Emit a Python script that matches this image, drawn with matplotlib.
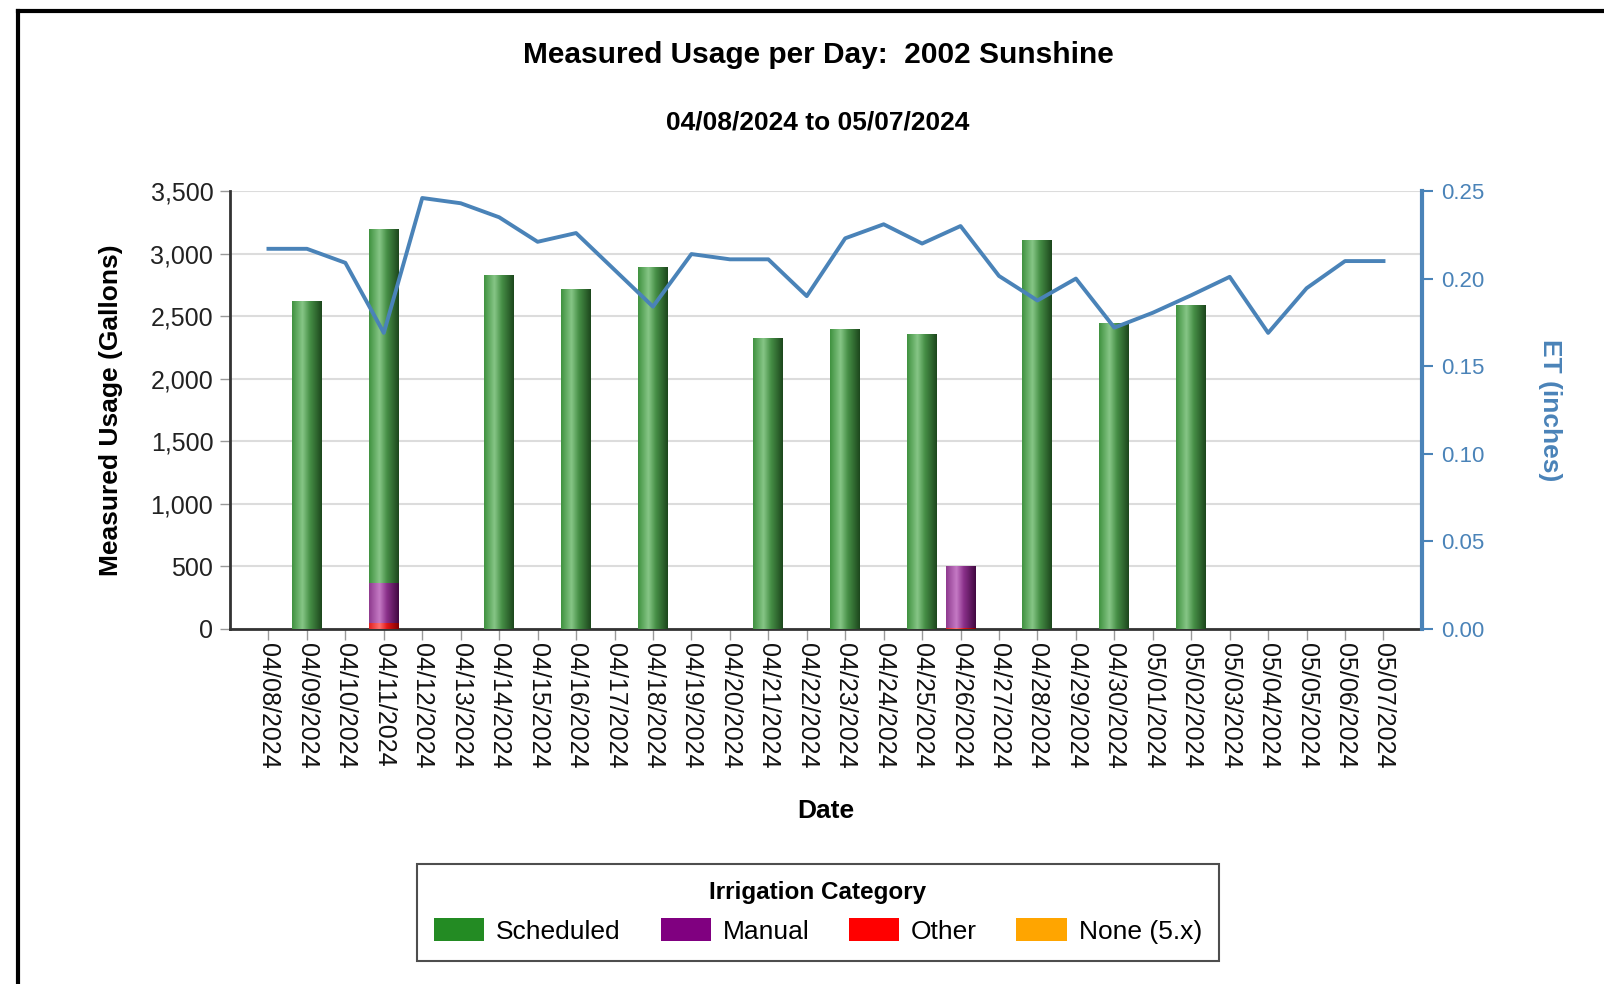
import numpy as np
import matplotlib
matplotlib.use('Agg')
import matplotlib.pyplot as plt
from matplotlib.colors import LinearSegmentedColormap
from matplotlib.patches import Patch
from matplotlib.lines import Line2D

plt.rcParams['font.family'] = ['Liberation Sans', 'DejaVu Sans']

# data
dates = ['04/08/2024', '04/09/2024', '04/10/2024', '04/11/2024', '04/12/2024',
         '04/13/2024', '04/14/2024', '04/15/2024', '04/16/2024', '04/17/2024',
         '04/18/2024', '04/19/2024', '04/20/2024', '04/21/2024', '04/22/2024',
         '04/23/2024', '04/24/2024', '04/25/2024', '04/26/2024', '04/27/2024',
         '04/28/2024', '04/29/2024', '04/30/2024', '05/01/2024', '05/02/2024',
         '05/03/2024', '05/04/2024', '05/05/2024', '05/06/2024', '05/07/2024']
scheduled = [0, 2620, 0, 2830, 0, 0, 2830, 0, 2715, 0,
             2895, 0, 0, 2325, 0, 2395, 0, 2355, 0, 0,
             3110, 0, 2445, 0, 2590, 0, 0, 0, 0, 0]
manual = [0, 0, 0, 320, 0, 0, 0, 0, 0, 0,
          0, 0, 0, 0, 0, 0, 0, 0, 490, 0,
          0, 0, 0, 0, 0, 0, 0, 0, 0, 0]
other = [0, 0, 0, 50, 0, 0, 0, 0, 0, 0,
         0, 0, 0, 0, 0, 0, 0, 0, 10, 0,
         0, 0, 0, 0, 0, 0, 0, 0, 0, 0]
none_5x = [0] * 30
et = [0.217, 0.217, 0.209, 0.169, 0.246, 0.243, 0.235, 0.221, 0.226, 0.205,
      0.184, 0.214, 0.211, 0.211, 0.190, 0.223, 0.231, 0.220, 0.230, 0.2015,
      0.1875, 0.200, 0.172, 0.1805, 0.1905, 0.201, 0.169, 0.1945, 0.210, 0.210]

legend_labels = ['Scheduled', 'Manual', 'Other', 'None (5.x)']
legend_colors = ['#238b23', '#800080', '#ff0000', '#ffa500']

et_color = '#4a83b8'

green_map = LinearSegmentedColormap.from_list(
    'g', [(0, '#3f913f'), (0.35, '#86c686'), (0.6, '#468f46'), (1, '#1c461c')])
purple_map = LinearSegmentedColormap.from_list(
    'p', [(0, '#8e3a8e'), (0.35, '#c57ac5'), (0.6, '#8a308a'), (1, '#400840')])
red_map = LinearSegmentedColormap.from_list(
    'r', [(0, '#e02020'), (0.35, '#ff7070'), (0.6, '#e01818'), (1, '#800000')])
orange_map = LinearSegmentedColormap.from_list(
    'o', [(0, '#f09a00'), (0.35, '#ffd070'), (0.6, '#f09a00'), (1, '#905a00')])

fig = plt.figure(figsize=(16.04, 9.84), dpi=100)
ax = fig.add_axes([0.1434, 0.3608, 0.7431, 0.4451])

x = np.arange(len(dates))
width = 0.78
grad = np.linspace(0, 1, 256).reshape(1, -1)


def shade(bars, cmap):
    # fake the cylinder look with a horizontal gradient clipped to each bar
    for p in bars:
        if p.get_height() <= 0:
            continue
        x0, y0 = p.get_x(), p.get_y()
        im = ax.imshow(grad, extent=[x0, x0 + p.get_width(), y0, y0 + p.get_height()],
                       aspect='auto', cmap=cmap, zorder=3, interpolation='bilinear')
        im.set_clip_path(p)


base = np.zeros(len(dates))
for vals, cmap, col in [(none_5x, orange_map, legend_colors[3]),
                        (other, red_map, legend_colors[2]),
                        (manual, purple_map, legend_colors[1]),
                        (scheduled, green_map, legend_colors[0])]:
    vals = np.array(vals, dtype=float)
    bars = ax.bar(x, vals, width, bottom=base, color=col, linewidth=0, zorder=2)
    shade(bars, cmap)
    base += vals

ax.set_xlim(-1, len(dates))
ax.set_ylim(0, 3500)
ax.set_yticks(np.arange(0, 3501, 500))
ax.yaxis.set_major_formatter(matplotlib.ticker.FuncFormatter(lambda v, p: f'{int(v):,}'))
ax.grid(axis='y', color='#dcdcdc', linewidth=1.5, zorder=0)
ax.set_axisbelow(True)
ax.set_xticks(x)
ax.set_xticklabels(dates, rotation=-90, fontsize=18, color='#111111')
ax.tick_params(axis='x', length=8, width=1, color='#999999', pad=2)
ax.tick_params(axis='y', labelsize=18, length=7, width=1, color='#999999',
               labelcolor='#222222', pad=5)
for s in ['top', 'right']:
    ax.spines[s].set_visible(False)
ax.spines['left'].set_linewidth(2)
ax.spines['left'].set_color('#333333')
ax.spines['bottom'].set_linewidth(2)
ax.spines['bottom'].set_color('#333333')

ax.set_ylabel('Measured Usage (Gallons)', fontsize=19, fontweight='bold', labelpad=20)
ax.set_xlabel('Date', fontsize=19, fontweight='bold', labelpad=22)

ax2 = ax.twinx()
ax2.plot(x, et, color=et_color, linewidth=2.8, zorder=5)
ax2.set_ylim(0, 0.25)
ax2.set_yticks(np.arange(0, 0.251, 0.05))
ax2.yaxis.set_major_formatter(matplotlib.ticker.FormatStrFormatter('%.2f'))
ax2.tick_params(axis='y', labelsize=16, length=8, width=1.5, color=et_color,
                labelcolor=et_color, pad=6)
for s in ['top', 'left', 'bottom']:
    ax2.spines[s].set_visible(False)
ax2.spines['right'].set_linewidth(3)
ax2.spines['right'].set_color(et_color)
ax2.set_ylabel('ET (inches)', fontsize=19, fontweight='bold', color=et_color,
               rotation=-90, labelpad=38, va='bottom')

fig.text(0.51, 0.944, 'Measured Usage per Day:  2002 Sunshine', ha='center', va='center',
         fontsize=21.5, fontweight='bold')
fig.text(0.51, 0.876, '04/08/2024 to 05/07/2024', ha='center', va='center',
         fontsize=19, fontweight='bold')

handles = [Patch(facecolor=c, edgecolor='none') for c in legend_colors]
leg = fig.legend(handles, legend_labels, ncol=4, loc='center', bbox_to_anchor=(0.51, 0.073),
                 title='Irrigation Category', fontsize=19, title_fontsize=17.5,
                 frameon=True, fancybox=False, edgecolor='#222222', handlelength=1.9,
                 handleheight=0.95, columnspacing=1.5, handletextpad=0.45,
                 borderpad=0.65, borderaxespad=0, labelspacing=0.55)
leg.get_title().set_fontweight('bold')
leg.get_frame().set_linewidth(1.5)

# outer report frame (only the top and left edges are visible)
fig.add_artist(Line2D([18 / 1604, 1], [1 - 11 / 984, 1 - 11 / 984], color='black',
                      linewidth=3, transform=fig.transFigure))
fig.add_artist(Line2D([18 / 1604, 18 / 1604], [0, 1 - 11 / 984], color='black',
                      linewidth=3, transform=fig.transFigure))

fig.savefig('out.png', dpi=100)
